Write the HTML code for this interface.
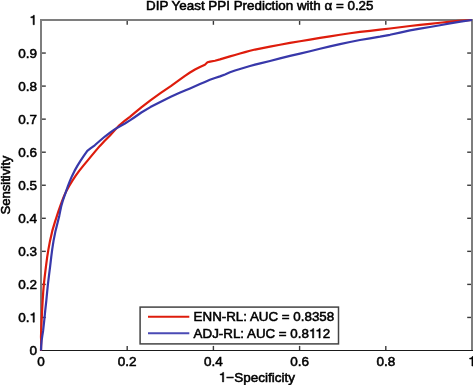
<!DOCTYPE html>
<html><head><meta charset="utf-8"><style>
html,body{margin:0;padding:0;background:#fff;}
svg{display:block;will-change:transform;}
text{font-family:"Liberation Sans",sans-serif;font-size:13.5px;fill:#000;stroke:#000;stroke-width:0.55px;}
.one{fill-opacity:0;stroke-opacity:0;}
</style></head><body>
<svg width="473" height="385" viewBox="0 0 473 385">
<rect x="0" y="0" width="473" height="385" fill="#fff"/>
<rect x="40" y="19" width="2" height="332" fill="#7e7e7e"/>
<rect x="471" y="19" width="2" height="332" fill="#7e7e7e"/>
<rect x="40" y="19" width="433" height="2" fill="#7e7e7e"/>
<rect x="40" y="350" width="433" height="1" fill="#1a1a1a"/>
<g stroke="#3a3a3a" stroke-width="1.4">
<line x1="42" y1="317.45" x2="45.8" y2="317.45"/><line x1="471" y1="317.45" x2="467.2" y2="317.45"/><line x1="42" y1="284.40" x2="45.8" y2="284.40"/><line x1="471" y1="284.40" x2="467.2" y2="284.40"/><line x1="42" y1="251.35" x2="45.8" y2="251.35"/><line x1="471" y1="251.35" x2="467.2" y2="251.35"/><line x1="42" y1="218.30" x2="45.8" y2="218.30"/><line x1="471" y1="218.30" x2="467.2" y2="218.30"/><line x1="42" y1="185.25" x2="45.8" y2="185.25"/><line x1="471" y1="185.25" x2="467.2" y2="185.25"/><line x1="42" y1="152.20" x2="45.8" y2="152.20"/><line x1="471" y1="152.20" x2="467.2" y2="152.20"/><line x1="42" y1="119.15" x2="45.8" y2="119.15"/><line x1="471" y1="119.15" x2="467.2" y2="119.15"/><line x1="42" y1="86.10" x2="45.8" y2="86.10"/><line x1="471" y1="86.10" x2="467.2" y2="86.10"/><line x1="42" y1="53.05" x2="45.8" y2="53.05"/><line x1="471" y1="53.05" x2="467.2" y2="53.05"/><line x1="127.20" y1="350" x2="127.20" y2="345.9"/><line x1="127.20" y1="21" x2="127.20" y2="24.8"/><line x1="213.40" y1="350" x2="213.40" y2="345.9"/><line x1="213.40" y1="21" x2="213.40" y2="24.8"/><line x1="299.60" y1="350" x2="299.60" y2="345.9"/><line x1="299.60" y1="21" x2="299.60" y2="24.8"/><line x1="385.80" y1="350" x2="385.80" y2="345.9"/><line x1="385.80" y1="21" x2="385.80" y2="24.8"/>
</g>
<polyline points="41.00,350.50 41.20,340.90 41.00,336.90 41.20,330.90 41.60,320.90 42.10,310.90 42.65,300.90 43.22,291.90 43.88,284.15 44.83,275.65 46.03,265.90 47.17,257.15 48.38,249.65 50.00,240.90 52.28,230.90 54.88,222.15 56.93,215.90 58.55,210.90 60.32,205.90 62.15,200.90 64.10,195.90 66.42,190.90 69.17,185.90 72.25,180.90 75.55,175.90 79.17,170.90 83.17,165.90 87.33,160.90 91.45,155.90 95.62,150.90 99.88,145.90 104.50,140.93 109.75,135.68 114.67,130.18 119.32,125.25 124.60,120.97 129.90,116.83 134.93,112.60 141.32,107.30 150.40,100.30 160.80,92.95 170.80,86.15 179.05,80.23 185.00,75.83 190.00,72.50 195.00,69.53 199.97,66.93 204.90,64.70 207.50,62.30 210.10,61.60 214.97,60.72 219.97,59.42 225.00,57.90 230.00,56.42 235.00,54.98 240.00,53.55 245.00,52.15 250.00,50.77 255.00,49.55 261.25,48.32 270.00,46.68 280.00,44.72 290.00,42.90 300.00,41.25 310.00,39.55 320.00,37.82 330.00,36.30 340.00,34.77 350.00,33.23 360.00,31.95 370.00,30.80 380.00,29.65 390.00,28.50 400.00,27.25 410.00,26.02 420.00,24.90 430.00,23.80 440.00,22.75 448.75,21.84 458.00,20.93 472.00,20.00" fill="none" stroke="#de1c0c" stroke-width="2.2" stroke-linejoin="round" stroke-linecap="butt"/>
<polyline points="41.00,350.50 41.20,345.90 41.60,340.90 42.30,335.90 43.10,330.90 44.20,320.90 45.20,310.90 46.30,300.90 47.15,291.90 47.93,284.15 48.97,275.65 50.20,265.90 51.22,257.15 52.18,249.65 53.53,240.90 55.52,230.90 57.70,222.15 59.25,215.90 60.25,210.90 61.30,205.90 62.75,200.90 64.50,195.90 66.25,190.90 68.00,185.90 69.93,180.90 72.08,175.90 74.53,170.90 77.35,165.90 80.45,160.90 83.78,155.90 87.30,150.90 90.50,148.40 94.75,145.28 99.62,141.03 104.88,136.53 110.00,132.55 115.00,129.15 119.97,126.25 124.93,123.45 129.90,120.43 134.93,116.98 141.32,112.50 150.40,107.10 160.80,101.70 170.80,96.83 179.05,93.10 185.00,90.58 190.00,88.40 195.00,86.23 199.97,84.05 204.92,81.90 209.90,79.80 214.93,77.98 219.97,76.38 225.00,74.40 230.00,72.28 235.00,70.53 240.00,68.97 245.00,67.45 250.00,66.00 255.00,64.67 261.25,63.15 270.00,60.98 280.00,58.40 290.00,55.90 300.00,53.58 310.00,51.23 320.00,48.77 330.00,46.40 340.00,44.12 350.00,41.98 360.00,40.02 370.00,38.32 380.00,36.70 390.00,34.80 400.00,32.58 410.00,30.35 420.00,28.55 430.00,26.97 440.00,25.22 450.00,23.42 460.50,21.64 472.00,20.00" fill="none" stroke="#3838aa" stroke-width="2.2" stroke-linejoin="round" stroke-linecap="butt"/>
<rect x="140.1" y="307.1" width="198.4" height="36.8" fill="#fff" stroke="#444" stroke-width="1.5"/>
<line x1="148" y1="316.7" x2="189.3" y2="316.7" stroke="#de1c0c" stroke-width="2"/>
<line x1="148" y1="333.3" x2="189.3" y2="333.3" stroke="#4a4ab5" stroke-width="2"/>
<text x="193.6" y="321.3" style="font-size:13.35px">ENN-RL: AUC = 0.8358</text>
<text x="193.6" y="338" style="font-size:13.35px">ADJ-RL: AUC = 0.8<tspan class="one">1</tspan><tspan class="one">1</tspan>2</text>
<text x="37" y="355.20" text-anchor="end">0</text><text x="37" y="322.15" text-anchor="end">0.<tspan class="one">1</tspan></text><text x="37" y="289.10" text-anchor="end">0.2</text><text x="37" y="256.05" text-anchor="end">0.3</text><text x="37" y="223.00" text-anchor="end">0.4</text><text x="37" y="189.95" text-anchor="end">0.5</text><text x="37" y="156.90" text-anchor="end">0.6</text><text x="37" y="123.85" text-anchor="end">0.7</text><text x="37" y="90.80" text-anchor="end">0.8</text><text x="37" y="57.75" text-anchor="end">0.9</text><text x="37" y="24.70" text-anchor="end"><tspan class="one">1</tspan></text>
<text x="41.00" y="366" text-anchor="middle">0</text><text x="127.20" y="366" text-anchor="middle">0.2</text><text x="213.40" y="366" text-anchor="middle">0.4</text><text x="299.60" y="366" text-anchor="middle">0.6</text><text x="385.80" y="366" text-anchor="middle">0.8</text><text x="472.00" y="366" text-anchor="middle"><tspan class="one">1</tspan></text>
<text x="256.9" y="381.9" text-anchor="middle"><tspan class="one">1</tspan>&#8722;Specificity</text>
<text transform="translate(9.7,185.05) rotate(-90)" text-anchor="middle" style="font-size:13.05px">Sensitivity</text>
<text x="259.8" y="9.9" text-anchor="middle" style="font-size:13.4px">DIP Yeast PPI Prediction with &#945; = 0.25</text>
<g fill="#000" stroke="#000"><path transform="translate(308.93,338.00) scale(0.01335,-0.01335)" d="M359 0L359 703L293 703C279 640 238 592 101 580L101 514L271 514L271 0Z" stroke-width="41.2"/><path transform="translate(315.37,338.00) scale(0.01335,-0.01335)" d="M359 0L359 703L293 703C279 640 238 592 101 580L101 514L271 514L271 0Z" stroke-width="41.2"/><path transform="translate(29.48,322.15) scale(0.01350,-0.01350)" d="M359 0L359 703L293 703C279 640 238 592 101 580L101 514L271 514L271 0Z" stroke-width="40.7"/><path transform="translate(29.48,24.70) scale(0.01350,-0.01350)" d="M359 0L359 703L293 703C279 640 238 592 101 580L101 514L271 514L271 0Z" stroke-width="40.7"/><path transform="translate(468.24,366.00) scale(0.01350,-0.01350)" d="M359 0L359 703L293 703C279 640 238 592 101 580L101 514L271 514L271 0Z" stroke-width="40.7"/><path transform="translate(218.81,381.90) scale(0.01350,-0.01350)" d="M359 0L359 703L293 703C279 640 238 592 101 580L101 514L271 514L271 0Z" stroke-width="40.7"/></g>
</svg>
</body></html>
